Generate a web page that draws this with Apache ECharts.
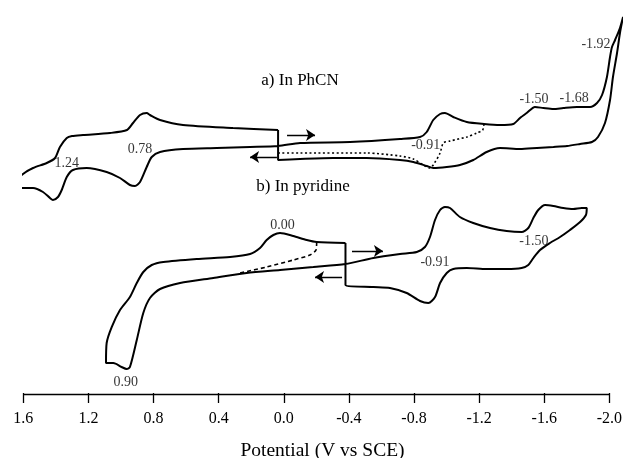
<!DOCTYPE html>
<html>
<head>
<meta charset="utf-8">
<script src="https://cdn.jsdelivr.net/npm/echarts@6/dist/echarts.min.js"></script>
<style>
  html, body { margin: 0; padding: 0; background: #fff; }
  #chart { width: 623px; height: 458px; }
</style>
</head>
<body>
<div id="chart"></div>
<script>
// Cyclic voltammograms: potential (V vs SCE) and current (arbitrary units, cathodic up)

// a) In PhCN — full scan as one closed trace
const phcnPotential = [0.035, 0.312, 0.619, 0.760, 0.822, 0.842, 0.883, 0.926, 0.963, 1.067, 1.233, 1.301, 1.333, 1.375, 1.405, 1.456, 1.540, 1.610, 1.641, 1.620, 1.540, 1.479, 1.436, 1.418, 1.387, 1.364, 1.333, 1.295, 1.211, 1.088, 1.006, 0.945, 0.914, 0.883, 0.842, 0.811, 0.760, 0.619, 0.412, 0.207, 0.035,
  -0.100, -0.407, -0.714, -0.837, -0.878, -0.918, -0.960, -0.990, -1.041, -1.124, -1.230, -1.328, -1.410, -1.451, -1.492, -1.543, -1.594, -1.656, -1.717, -1.801, -1.881, -1.924, -1.955, -1.985, -2.004, -2.016, -2.035, -2.065, -2.084,
  -2.065, -2.047, -2.022, -2.004, -1.973, -1.930, -1.893, -1.820, -1.740, -1.656, -1.555, -1.451, -1.328, -1.246, -1.164, -1.082, -1.001, -0.918, -0.878, -0.796, -0.714, -0.509, -0.304, -0.100, 0.035, 0.035];
const phcnCurrent = [26.3, 26.5, 26.8, 27.3, 27.8, 28.0, 27.8, 27.0, 26.3, 26.0, 25.8, 25.7, 25.5, 24.6, 23.5, 23.0, 22.5, 21.8, 21.0, 20.5, 20.5, 20.1, 19.5, 19.3, 19.6, 20.3, 21.6, 22.3, 22.5, 22.1, 21.5, 20.8, 20.7, 21.1, 22.6, 23.6, 24.1, 24.4, 24.5, 24.6, 24.7,
  25.0, 25.1, 25.4, 25.6, 26.1, 27.3, 27.9, 28.0, 27.6, 27.1, 26.9, 26.8, 26.9, 27.5, 28.0, 28.6, 28.5, 28.4, 28.5, 28.6, 28.6, 29.0, 29.8, 31.6, 33.6, 34.6, 35.3, 36.5, 37.6,
  36.0, 34.0, 31.6, 29.3, 27.0, 25.6, 25.1, 24.9, 24.7, 24.6, 24.5, 24.4, 24.5, 24.1, 23.3, 22.8, 22.6, 22.5, 22.7, 23.1, 23.3, 23.5, 23.5, 23.4, 23.3, 26.3];

// a) reversal after the first reduction (dotted)
const phcnPartialPotential = [0.035, -0.100, -0.509, -0.714, -0.796, -0.857, -0.898, -0.918, -0.960, -0.980, -1.021, -1.124, -1.185, -1.222, -1.230];
const phcnPartialCurrent = [24.0, 24.0, 24.0, 23.7, 23.4, 22.8, 22.5, 22.8, 24.0, 25.0, 25.2, 25.6, 26.0, 26.3, 27.0];

// b) In pyridine — full scan as one closed trace
const pyPotential = [-0.379, -0.202, -0.141, -0.058, 0.023, 0.064, 0.105, 0.146, 0.207, 0.330, 0.535, 0.740, 0.811, 0.863, 0.903, 0.945, 1.006, 1.057, 1.088, 1.092, 1.047, 0.996, 0.965, 0.945, 0.903, 0.863, 0.822, 0.760, 0.637, 0.433, 0.228, 0.023, -0.181, -0.379,
  -0.550, -0.714, -0.817, -0.867, -0.898, -0.929, -0.960, -0.990, -1.021, -1.082, -1.164, -1.267, -1.369, -1.461, -1.502, -1.533, -1.563, -1.605, -1.656, -1.717, -1.778, -1.830, -1.861,
  -1.856, -1.820, -1.758, -1.697, -1.635, -1.574, -1.533, -1.502, -1.461, -1.369, -1.246, -1.124, -1.041, -1.001, -0.960, -0.929, -0.888, -0.837, -0.755, -0.652, -0.550, -0.379, -0.379];
const pyCurrent = [15.0, 15.1, 15.3, 15.7, 16.0, 15.8, 15.3, 14.5, 13.9, 13.6, 13.4, 13.1, 12.8, 12.1, 11.0, 9.6, 8.3, 6.6, 5.0, 3.0, 3.0, 2.6, 2.4, 2.6, 5.3, 8.0, 9.5, 10.4, 11.0, 11.5, 12.0, 12.3, 12.6, 12.9,
  13.5, 13.9, 14.1, 14.6, 15.6, 17.3, 18.3, 18.6, 18.5, 17.6, 17.0, 16.5, 16.2, 16.1, 16.5, 17.5, 18.3, 18.8, 18.7, 18.5, 18.4, 18.5, 18.5,
  17.8, 17.1, 16.3, 15.6, 15.0, 14.3, 13.5, 12.8, 12.5, 12.4, 12.4, 12.5, 12.4, 12.0, 11.0, 9.6, 9.0, 9.2, 10.0, 10.5, 10.6, 10.8, 15.0];

// b) reversal before the 0.00 V wave (dashed)
const pyPartialPotential = [-0.202, -0.198, -0.161, -0.058, 0.105, 0.269];
const pyPartialCurrent = [15.1, 14.3, 13.8, 13.3, 12.6, 12.0];

// Scan-direction arrows: [startE, startI, endE, endI]
const scanArrows = [
  [-0.020, 25.8, -0.192, 25.8],
  [0.042, 23.6, 0.207, 23.6],
  [-0.419, 14.2, -0.609, 14.2],
  [-0.358, 11.6, -0.192, 11.6]
];

// Peak potential annotations
const peakText = ['1.24', '0.78', '-0.91', '-1.50', '-1.68', '-1.92', '0.00', '0.90', '-0.91', '-1.50'];
const peakLabelE = [1.333, 0.883, -0.872, -1.537, -1.783, -1.918, 0.008, 0.970, -0.929, -1.536];
const peakLabelI = [23.0, 24.4, 24.8, 29.4, 29.5, 34.9, 16.8, 1.1, 13.1, 15.2];

// Potential axis: labelled span 1.6 … -2.0 V, scale kept open one step past -2.0
const axisFirst = 1.6, axisLast = -2.0;
const scaleMin = -2.4, tickStep = 0.4;
const currentMin = -0.1, currentMax = 39.3;

const pairs = (xs, ys) => xs.map((x, k) => [x, ys[k]]);
const serif = 'Liberation Serif, Times New Roman, serif';

const chart = echarts.init(document.getElementById('chart'), null, { renderer: 'canvas' });

const traceStyle = { color: '#000', width: 2 };
const plotLeft = 23.3, pxPerVolt = 162.8;

chart.setOption({
  animation: false,
  backgroundColor: '#fff',
  grid: {
    left: plotLeft, width: pxPerVolt * (axisFirst - scaleMin), top: 0, height: 394,
    containLabel: false, outerBoundsMode: 'none'
  },
  graphic: [
    { type: 'text', x: 300, y: 81, style: { text: 'a) In PhCN', font: '17px ' + serif, fill: '#000', align: 'center', verticalAlign: 'middle' } },
    { type: 'text', x: 303, y: 187, style: { text: 'b) In pyridine', font: '17px ' + serif, fill: '#000', align: 'center', verticalAlign: 'middle' } }
  ],
  xAxis: {
    type: 'value',
    inverse: true,
    min: scaleMin,
    max: axisFirst,
    interval: tickStep,
    axisLine: { show: false },
    axisTick: { inside: false, length: 10, lineStyle: { color: '#000', width: 1.3 } },
    axisLabel: {
      margin: 17,
      fontFamily: serif,
      fontSize: 16,
      color: '#000',
      formatter: v => (v < axisLast - 1e-9 ? '' : (Math.abs(v) < 1e-9 ? 0 : v).toFixed(1))
    },
    splitLine: { show: false }
  },
  yAxis: {
    type: 'value',
    min: currentMin,
    max: currentMax,
    show: false
  },
  title: {
    text: 'Potential (V vs SCE)',
    left: 317.5,
    top: 436,
    textAlign: 'center',
    textStyle: { fontFamily: serif, fontSize: 19.5, fontWeight: 'normal', color: '#000' }
  },
  series: [
    {
      type: 'line', data: pairs(phcnPotential, phcnCurrent),
      showSymbol: false, clip: false, smooth: 0.25, lineStyle: traceStyle,
      markLine: {
        silent: true,
        symbol: ['none', 'none'],
        label: { show: false },
        lineStyle: { color: '#000', width: 1.3, type: 'solid' },
        data: [[{ coord: [axisFirst, currentMin] }, { coord: [axisLast, currentMin] }]]
      }
    },
    {
      type: 'line', data: pairs(phcnPartialPotential, phcnPartialCurrent),
      showSymbol: false, clip: false, smooth: 0.25,
      lineStyle: { color: '#000', width: 1.6, type: [2, 2.5] }
    },
    {
      type: 'line', data: pairs(pyPotential, pyCurrent),
      showSymbol: false, clip: false, smooth: 0.25, lineStyle: traceStyle
    },
    {
      type: 'line', data: pairs(pyPartialPotential, pyPartialCurrent),
      showSymbol: false, clip: false, smooth: 0.25,
      lineStyle: { color: '#000', width: 1.6, type: [4, 3] }
    },
    {
      type: 'lines',
      coordinateSystem: 'cartesian2d',
      symbol: ['none', 'arrow'],
      symbolSize: [6, 9],
      lineStyle: { color: '#000', width: 1.4, opacity: 1 },
      data: scanArrows.map(a => ({ coords: [[a[0], a[1]], [a[2], a[3]]] }))
    },
    {
      type: 'scatter',
      symbolSize: 0,
      silent: true,
      clip: false,
      data: peakText.map((t, k) => ({ value: [peakLabelE[k], peakLabelI[k]], name: t })),
      label: {
        show: true,
        position: 'inside',
        formatter: p => p.name,
        fontFamily: serif,
        fontSize: 14,
        color: '#000'
      }
    }
  ]
});
</script>
</body>
</html>
